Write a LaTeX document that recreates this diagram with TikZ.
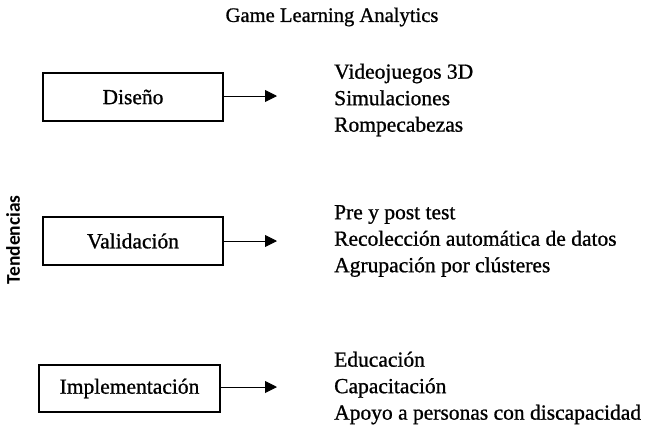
\documentclass[tikz,border=0pt]{standalone}
\usepackage{fontspec}
\setmainfont{Liberation Serif}[FakeBold=0.9]
\newfontfamily\tendfont{Carlito}
\usetikzlibrary{arrows.meta}
\begin{document}
\begin{tikzpicture}[x=1pt,y=-1pt,
  stagebox/.style={draw,line width=2pt,minimum width=180pt,minimum height=48pt,inner sep=0pt,font=\fontsize{21.5}{24}\selectfont},
  listtext/.style={anchor=west,align=left,inner sep=0pt,font=\fontsize{21.5}{26.5}\selectfont},
  conn/.style={line width=0.9pt,-{Triangle[length=12pt,width=12pt]}}]
\useasboundingbox (0,0) rectangle (650,440);
\node[font=\fontsize{20.6}{23}\selectfont] (title) at (332,17) {Game Learning Analytics};
\node[stagebox] (dis) at (133,97) {Diseño};
\node[stagebox] (val) at (133,241) {Validación};
\node[stagebox,minimum width=181pt,minimum height=47pt] (imp) at (129.5,388.5) {Implementación};
\coordinate (t1) at (277,96);
\coordinate (t2) at (277,241);
\coordinate (t3) at (277,387);
\draw[conn] (dis.east |- t1) -- (t1);
\draw[conn] (val.east |- t2) -- (t2);
\draw[conn] (imp.east |- t3) -- (t3);
\node[listtext] (l1) at (334,100) {Videojuegos 3D\\Simulaciones\\Rompecabezas};
\node[listtext] (l2) at (334,241) {Pre y post test\\Recolección automática de datos\\Agrupación por clústeres};
\node[listtext] (l3) at (334,388) {Educación\\Capacitación\\Apoyo a personas con discapacidad};
\node[rotate=90,font=\tendfont\bfseries\fontsize{19.5}{22}\selectfont] (tend) at (13,240) {Tendencias};
\end{tikzpicture}
\end{document}
